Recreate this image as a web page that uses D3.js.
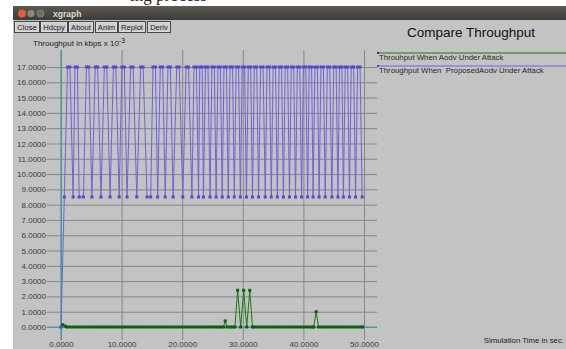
<!DOCTYPE html>
<html>
<head>
<meta charset="utf-8">
<script src="https://cdn.jsdelivr.net/npm/d3@7/dist/d3.min.js"></script>
<style>
  html, body { margin: 0; padding: 0; background: #ffffff; }
  svg { display: block; font-family: "Liberation Sans", Arial, sans-serif; }
</style>
</head>
<body>
<svg id="chart" width="566" height="349"></svg>
<script>
// Throughput (kbps x 10^-3) over simulation time (sec), proposed AODV under attack
const proposedSeries = [
  [0,0],[0.55,8.5],[1.08,17],[1.48,17],[2.0,8.5],[2.3,17],[2.7,17],[3.0,8.5],[3.7,8.5],
  [4.2,17],[4.6,17],[5.1,8.5],[5.65,17],[6.05,17],[6.6,8.5],[7.15,17],[7.55,17],[8.1,8.5],
  [8.65,17],[9.05,17],[9.6,8.5],[10.05,17],[10.45,17],[10.9,8.5],[11.5,17],[11.9,17],[12.5,8.5],
  [13.15,17],[13.55,17],[14.2,8.5],[14.8,8.5],[15.18,17],[15.58,17],[15.95,8.5],[16.38,17],
  [16.78,17],[17.2,8.5],[17.65,17],[18.05,17],[18.5,8.5],[19.1,17],[19.5,17],[20.1,8.5],
  [20.65,17],[21.05,17],[21.6,8.5],[21.95,17],[22.35,17],[22.7,8.5],[22.9,17],[23.3,17],
  [23.5,8.5],[23.85,17],[24.25,17],[24.6,8.5],[24.9,17],[25.3,17],[25.6,8.5],[25.9,17],
  [26.3,17],[26.6,8.5],[26.9,17],[27.3,17],[27.6,8.5],[27.9,17],[28.3,17],[28.6,8.5],
  [28.9,17],[29.3,17],[29.6,8.5],[29.9,17],[30.3,17],[30.6,8.5],[30.9,17],[31.3,17],
  [31.6,8.5],[31.9,17],[32.3,17],[32.6,8.5],[32.95,17],[33.35,17],[33.7,8.5],[34.0,17],
  [34.4,17],[34.7,8.5],[35.0,17],[35.4,17],[35.7,8.5],[36.0,17],[36.4,17],[36.7,8.5],
  [37.0,17],[37.4,17],[37.7,8.5],[38.0,17],[38.4,17],[38.7,8.5],[39.0,17],[39.4,17],
  [39.7,8.5],[40.0,17],[40.4,17],[40.7,8.5],[40.95,17],[41.35,17],[41.6,8.5],[41.9,17],
  [42.3,17],[42.6,8.5],[42.9,17],[43.3,17],[43.6,8.5],[43.95,17],[44.35,17],[44.7,8.5],
  [45.0,17],[45.4,17],[45.7,8.5],[45.95,17],[46.35,17],[46.6,8.5],[46.9,17],[47.3,17],
  [47.6,8.5],[47.9,17],[48.3,17],[48.6,8.5],[48.95,17],[49.35,17],[49.7,8.5]
];

// Throughput of plain AODV under attack
const aodvSeries = [
  [0.3,0.15],[0.7,0.05],[1.0,0],[1.5,0],[2.0,0],[2.5,0],[3.0,0],[3.5,0],[4.0,0],[4.5,0],
  [5.0,0],[5.5,0],[6.0,0],[6.5,0],[7.0,0],[7.5,0],[8.0,0],[8.5,0],[9.0,0],[9.5,0],
  [10.0,0],[10.5,0],[11.0,0],[11.5,0],[12.0,0],[12.5,0],[13.0,0],[13.5,0],[14.0,0],[14.5,0],
  [15.0,0],[15.5,0],[16.0,0],[16.5,0],[17.0,0],[17.5,0],[18.0,0],[18.5,0],[19.0,0],[19.5,0],
  [20.0,0],[20.5,0],[21.0,0],[21.5,0],[22.0,0],[22.5,0],[23.0,0],[23.5,0],[24.0,0],[24.5,0],
  [25.0,0],[25.5,0],[26.0,0],[26.4,0],[26.8,0],[27.1,0.4],[27.4,0],[27.9,0],[28.3,0],[28.7,0],
  [29.15,2.4],[29.65,0],[30.15,2.4],[30.65,0],[31.15,2.4],[31.6,0],[32.0,0],[32.5,0],[33.0,0],
  [33.5,0],[34.0,0],[34.5,0],[35.0,0],[35.5,0],[36.0,0],[36.5,0],[37.0,0],[37.5,0],[38.0,0],
  [38.5,0],[39.0,0],[39.5,0],[40.0,0],[40.5,0],[41.0,0],[41.4,0],[41.7,0],[42.1,1.0],[42.5,0],
  [43.0,0],[43.5,0],[44.0,0],[44.5,0],[45.0,0],[45.5,0],[46.0,0],[46.5,0],[47.0,0],[47.5,0],
  [48.0,0],[48.5,0],[49.0,0],[49.5,0],[49.8,0]
];

const yTickValues = [0,1,2,3,4,5,6,7,8,9,10,11,12,13,14,15,16,17];
const xTickValues = [0,10,20,30,40,50];
const legendLabels = ["Throuhput When Aodv Under Attack", "Throughput When  ProposedAodv Under Attack"];
const seriesColors = [
  { line: "#167a16", mark: "#0a5f0a" },
  { line: "#6f62e2", mark: "#5548cf" }
];
const toolButtons = ["Close", "Hdcpy", "About", "Anim", "Replot", "Deriv"];

const svg = d3.select("#chart");

// ---- window frame ----
svg.append("text")
  .attr("x", 130).attr("y", 1)
  .attr("font-family", "'Liberation Serif', serif")
  .attr("font-size", 17).attr("fill", "#222")
  .text("ing process");

const grad = svg.append("defs").append("linearGradient")
  .attr("id", "titlebar").attr("x1", 0).attr("x2", 0).attr("y1", 0).attr("y2", 1);
grad.append("stop").attr("offset", "0%").attr("stop-color", "#5b5950");
grad.append("stop").attr("offset", "100%").attr("stop-color", "#3c3b36");

svg.append("rect").attr("x", 13).attr("y", 6).attr("width", 553).attr("height", 14)
  .attr("fill", "url(#titlebar)");
svg.append("rect").attr("x", 13).attr("y", 20).attr("width", 553).attr("height", 329)
  .attr("fill", "#c3c3c3");

svg.append("circle").attr("cx", 22).attr("cy", 13.5).attr("r", 4).attr("fill", "#e45c3a");
svg.append("circle").attr("cx", 31).attr("cy", 13.5).attr("r", 3.6).attr("fill", "#8a8880");
svg.append("circle").attr("cx", 40.5).attr("cy", 13.5).attr("r", 3.6).attr("fill", "#6f6d66")
  .attr("stroke", "#8a8880").attr("stroke-width", 0.8);
svg.append("text").attr("x", 53).attr("y", 17)
  .attr("font-size", 8.5).attr("font-weight", "bold").attr("fill", "#dfdbd2")
  .text("xgraph");

// toolbar buttons
const buttonX = [14, 40, 68, 95, 118, 147];
const buttonW = [25, 27, 25, 22, 27, 23];
const btn = svg.append("g").selectAll("g").data(toolButtons).join("g")
  .attr("transform", (d, i) => `translate(${buttonX[i]},21)`);
btn.append("rect").attr("x", 0.5).attr("y", 0.5)
  .attr("width", (d, i) => buttonW[i]).attr("height", 11)
  .attr("fill", "#cdcdcd").attr("stroke", "#444").attr("stroke-width", 1);
btn.append("rect").attr("x", 1.5).attr("y", 1.5)
  .attr("width", (d, i) => buttonW[i] - 2).attr("height", 9)
  .attr("fill", "none").attr("stroke", "#e6e6e6").attr("stroke-width", 0.6);
btn.append("text")
  .attr("x", (d, i) => buttonW[i] / 2 + 0.5).attr("y", 9.3)
  .attr("text-anchor", "middle").attr("font-size", 7.6).attr("fill", "#222")
  .text(d => d);

// ---- plot ----
const x = d3.scaleLinear().domain([0, 50]).range([61, 364]);
const y = d3.scaleLinear().domain([0, 17]).range([327, 67]);

const gridColor = "#878787";
const labelColor = "#3a3a3a";

// horizontal grid + y labels
const yAxis = svg.append("g").attr("transform", "translate(377,0)")
  .call(d3.axisLeft(y).tickValues(yTickValues).tickFormat(d3.format(".4f"))
    .tickSizeInner(330).tickSizeOuter(0).tickPadding(1));
yAxis.select(".domain").remove();
yAxis.selectAll(".tick line").attr("stroke", gridColor);
yAxis.selectAll(".tick text").attr("font-size", 8).attr("fill", labelColor)
  .attr("font-family", "'Liberation Sans', Arial, sans-serif");

// vertical grid + x labels
const xAxis = svg.append("g").attr("transform", "translate(0,340)")
  .call(d3.axisBottom(x).tickValues(xTickValues).tickFormat(d3.format(".4f"))
    .tickSizeInner(-290).tickSizeOuter(0).tickPadding(1.5));
xAxis.select(".domain").remove();
xAxis.selectAll(".tick line").attr("stroke", gridColor);
xAxis.selectAll(".tick text").attr("font-size", 8).attr("fill", labelColor)
  .attr("font-family", "'Liberation Sans', Arial, sans-serif");

// zero axes
svg.append("line").attr("x1", x(0)).attr("x2", x(0)).attr("y1", 50).attr("y2", 340)
  .attr("stroke", "#35a09c").attr("stroke-width", 1.2);
svg.append("line").attr("x1", 47).attr("x2", 377).attr("y1", y(0)).attr("y2", y(0))
  .attr("stroke", "#35a09c").attr("stroke-width", 1.2);

const line = d3.line().x(d => x(d[0])).y(d => y(d[1]));

function drawSeries(data, colors) {
  svg.append("path").datum(data)
    .attr("d", line).attr("fill", "none")
    .attr("stroke", colors.line).attr("stroke-width", 1);
  svg.append("g").selectAll("rect").data(data).join("rect")
    .attr("x", d => x(d[0]) - 1.5).attr("y", d => y(d[1]) - 1.5)
    .attr("width", 3).attr("height", 3).attr("fill", colors.mark);
}
drawSeries(proposedSeries, seriesColors[1]);
drawSeries(aodvSeries, seriesColors[0]);

// ---- titles ----
svg.append("text").attr("x", 33).attr("y", 46)
  .attr("font-size", 8).attr("fill", "#222")
  .text("Throughput in kbps x 10")
  .append("tspan").attr("dy", -3).attr("font-size", 7).text("-3");

svg.append("text").attr("x", 471).attr("y", 36.5).attr("text-anchor", "middle")
  .attr("font-size", 13.5).attr("fill", "#111")
  .text("Compare Throughput");

svg.append("text").attr("x", 564).attr("y", 343).attr("text-anchor", "end")
  .attr("font-size", 7.8).attr("fill", "#222")
  .text("Simulation Time in sec.");

// ---- legend ----
const legendY = [53, 66];
const legend = svg.append("g").selectAll("g").data(legendLabels).join("g");
legend.append("line")
  .attr("x1", 378).attr("x2", 566)
  .attr("y1", (d, i) => legendY[i]).attr("y2", (d, i) => legendY[i])
  .attr("stroke", (d, i) => seriesColors[i].line).attr("stroke-width", 1);
legend.append("rect")
  .attr("x", 377).attr("y", (d, i) => legendY[i] - 1)
  .attr("width", 2).attr("height", 2)
  .attr("fill", (d, i) => seriesColors[i].mark);
legend.append("text")
  .attr("x", 379).attr("y", (d, i) => legendY[i] + 7)
  .attr("font-size", 7.8).attr("fill", "#2a2a2a")
  .attr("xml:space", "preserve")
  .style("white-space", "pre")
  .text(d => d);
</script>
</body>
</html>
